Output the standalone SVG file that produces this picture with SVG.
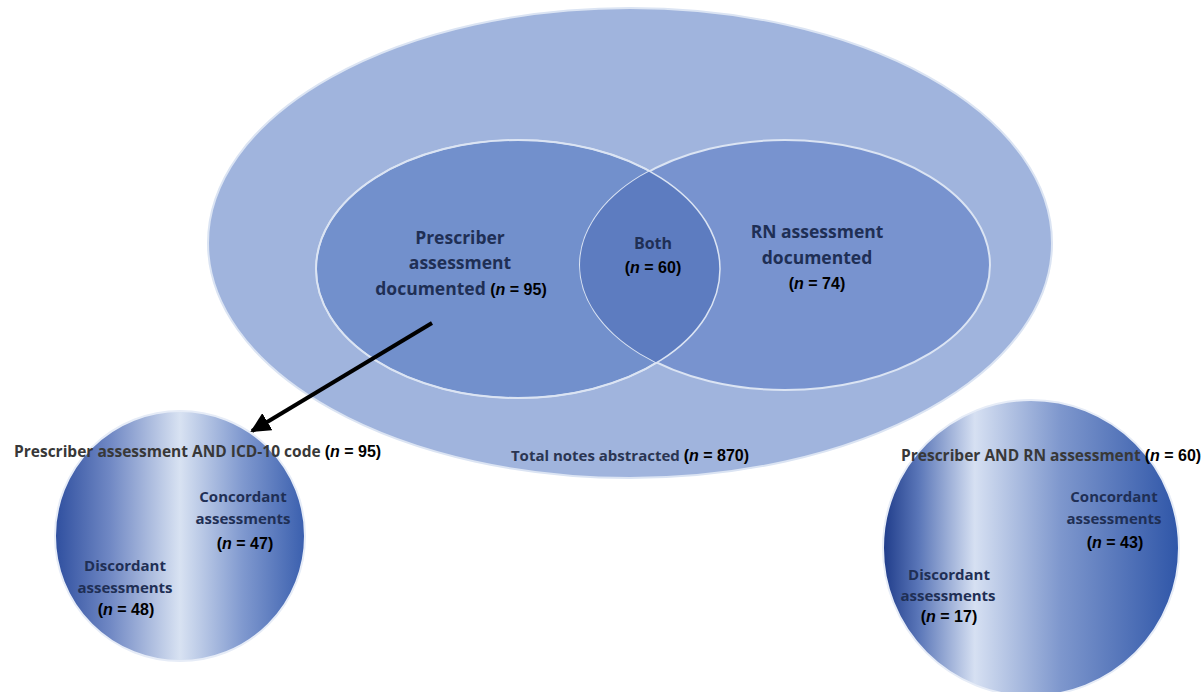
<svg xmlns="http://www.w3.org/2000/svg" width="1201" height="692" viewBox="0 0 1201 692">
<defs>
<linearGradient id="gL" x1="0" y1="0" x2="1" y2="0">
<stop offset="0" stop-color="#2f4f9f"/>
<stop offset="0.22" stop-color="#7088c4"/>
<stop offset="0.5" stop-color="#d8e2f2"/>
<stop offset="0.75" stop-color="#8099cf"/>
<stop offset="1" stop-color="#3a5fae"/>
</linearGradient>
<linearGradient id="gR" x1="0" y1="0" x2="1" y2="0">
<stop offset="0" stop-color="#1f3c8a"/>
<stop offset="0.12" stop-color="#5a76b8"/>
<stop offset="0.31" stop-color="#d6e0f2"/>
<stop offset="0.6" stop-color="#7e97cd"/>
<stop offset="1" stop-color="#2f56a8"/>
</linearGradient>
<clipPath id="cpL"><ellipse cx="518" cy="269" rx="202" ry="129"/></clipPath>
<marker id="ah" viewBox="0 0 10 10" refX="9" refY="5" markerWidth="5" markerHeight="5" orient="auto">
<path d="M0,0 L10,5 L0,10 z" fill="#000"/>
</marker>
</defs>
<style>
.lbl{font-family:"Open Sans","Noto Sans",sans-serif;font-weight:bold;fill:#1f2f55;text-anchor:middle}
.n{font-family:"Liberation Sans",Arial,sans-serif;font-weight:bold;fill:#000;font-size:16px}
.ttl{font-family:"Open Sans","Noto Sans",sans-serif;font-weight:bold;fill:#383838;font-size:15.5px}
</style>
<rect width="1201" height="692" fill="#fff"/>
<g id="total">
<ellipse cx="630" cy="243" rx="422" ry="235" fill="#a0b4dd" stroke="#dbe4f3" stroke-width="2"/>
</g>
<g id="prescriber">
<ellipse cx="518" cy="269" rx="202" ry="129" fill="#7290cc" stroke="#dbe4f3" stroke-width="2"/>
</g>
<g id="rn">
<ellipse cx="785" cy="265" rx="205" ry="125" fill="#7893cf" stroke="#dbe4f3" stroke-width="2"/>
</g>
<g id="both">
<ellipse cx="785" cy="265" rx="205" ry="125" fill="#5d7cc0" clip-path="url(#cpL)"/>
<ellipse cx="518" cy="269" rx="202" ry="129" fill="none" stroke="#dbe4f3" stroke-width="1.5"/>
</g>
<g id="texts-main">
<text class="lbl" font-size="17.5" x="460" y="244">Prescriber</text>
<text class="lbl" font-size="17.5" x="460" y="269">assessment</text>
<text class="lbl" font-size="17.5" x="461" y="295">documented <tspan class="n">(<tspan font-style="italic">n</tspan> = 95)</tspan></text>
<text class="lbl" font-size="16" x="653" y="249">Both</text>
<text class="n" x="653" y="273" text-anchor="middle">(<tspan font-style="italic">n</tspan> = 60)</text>
<text class="lbl" font-size="17.5" x="817" y="238">RN assessment</text>
<text class="lbl" font-size="17.5" x="817" y="264">documented</text>
<text class="n" x="817" y="289" text-anchor="middle">(<tspan font-style="italic">n</tspan> = 74)</text>
<text class="lbl" font-size="15" x="630" y="461" style="fill:#2a3552">Total notes abstracted <tspan class="n">(<tspan font-style="italic">n</tspan> = 870)</tspan></text>
</g>
<g id="icd">
<circle cx="180" cy="536" r="125" fill="url(#gL)" stroke="#e6ecf7" stroke-width="2"/>
<text class="ttl" x="14" y="457">Prescriber assessment AND ICD-10 code <tspan class="n">(<tspan font-style="italic">n</tspan> = 95)</tspan></text>
<text class="lbl" font-size="15" x="243" y="502">Concordant</text>
<text class="lbl" font-size="15" x="243" y="524">assessments</text>
<text class="n" x="245" y="549" text-anchor="middle">(<tspan font-style="italic">n</tspan> = 47)</text>
<text class="lbl" font-size="15" x="125" y="571">Discordant</text>
<text class="lbl" font-size="15" x="125" y="593">assessments</text>
<text class="n" x="126" y="615" text-anchor="middle">(<tspan font-style="italic">n</tspan> = 48)</text>
</g>
<g id="prn">
<circle cx="1031" cy="548" r="148" fill="url(#gR)" stroke="#e6ecf7" stroke-width="2"/>
<text class="ttl" x="901" y="461">Prescriber AND RN assessment <tspan class="n">(<tspan font-style="italic">n</tspan> = 60)</tspan></text>
<text class="lbl" font-size="15" x="1114" y="502">Concordant</text>
<text class="lbl" font-size="15" x="1114" y="524">assessments</text>
<text class="n" x="1115" y="548" text-anchor="middle">(<tspan font-style="italic">n</tspan> = 43)</text>
<text class="lbl" font-size="15" x="949" y="580">Discordant</text>
<text class="lbl" font-size="15" x="948" y="601">assessments</text>
<text class="n" x="949" y="622" text-anchor="middle">(<tspan font-style="italic">n</tspan> = 17)</text>
</g>
<g id="connectors">
<line x1="432" y1="323" x2="252" y2="431" stroke="#000" stroke-width="4" marker-end="url(#ah)"/>
</g>
</svg>
